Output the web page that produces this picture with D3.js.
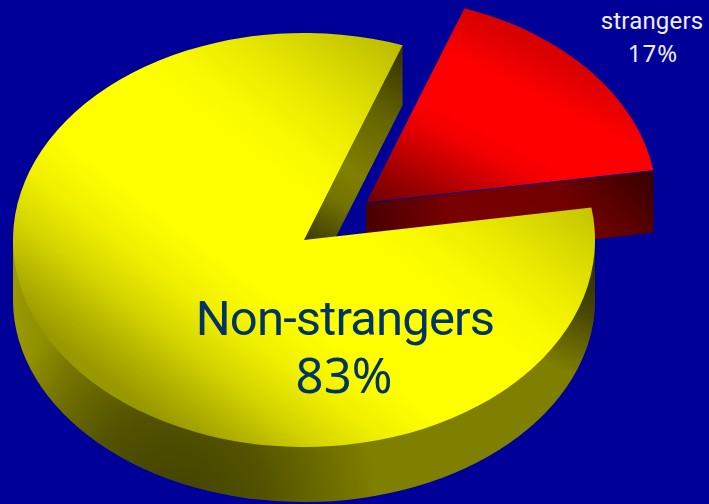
<!DOCTYPE html>
<html>
<head>
<meta charset="utf-8">
<script src="https://cdn.jsdelivr.net/npm/d3@7"></script>
<style>html,body{margin:0;padding:0;background:#000099;overflow:hidden}svg{display:block}</style>
</head>
<body>
<svg id="c" width="709" height="504"></svg>
<script>
const categories = ["Non-strangers", "strangers"];
const values = [83, 17];
const labels = ["83%", "17%"];

const W = 709, H = 504, cx = 304, cy = 240, rx = 291, ry = 207, ryBottom = 202;
const depth = 60, offX = 62, offY = -37;
const k = ry / rx, kB = ryBottom / rx;
const svg = d3.select("#c");
svg.append("rect").attr("width", W).attr("height", H).attr("fill", "#000099");

const defs = svg.append("defs");
function addStops(g, stops) {
  stops.forEach(s => g.append("stop").attr("offset", s[0]).attr("stop-color", s[1]).attr("stop-opacity", s[2] === undefined ? 1 : s[2]));
}
function grad(id, p0, p1, stops, tf) {
  const g = defs.append("linearGradient").attr("id", id).attr("gradientUnits", "userSpaceOnUse")
    .attr("x1", p0[0]).attr("y1", p0[1]).attr("x2", p1[0]).attr("y2", p1[1]);
  if (tf) g.attr("gradientTransform", tf);
  addStops(g, stops);
}
function radial(id, c, r, stops) {
  const g = defs.append("radialGradient").attr("id", id).attr("gradientUnits", "userSpaceOnUse")
    .attr("cx", c[0]).attr("cy", c[1]).attr("r", r);
  addStops(g, stops);
}
const inv = (x, y, kk) => `scale(1,${1 / kk}) translate(${-x},${-y})`;
const tr = (x, y, kk) => `translate(${x},${y}) scale(1,${kk})`;

grad("yTop", [166, 424], [442, 56], [[0, "#989800"], [.08, "#b4b400"], [.16, "#d4d400"], [.26, "#f0f000"], [.36, "#ffff00"], [.58, "#ffff00"], [.66, "#f8f800"], [.74, "#ecec00"], [.83, "#dada00"], [.92, "#c6c600"], [1, "#b4b400"]], inv(cx, cy, k));
grad("yWallBase", [13, 0], [120, 0], [[0, "#9a9a00"], [.5, "#868600"], [1, "#808000"]]);
radial("wallDarkL", [170, 510], 210, [[0, "#000", .5], [.45, "#000", .36], [1, "#000", 0]]);
radial("wallDarkR", [605, 260], 120, [[0, "#000", .65], [.45, "#000", .45], [1, "#000", 0]]);
grad("yInner", [402, 60], [304, 240], [[0, "#3a3a00"], [.3, "#666600"], [.6, "#808000"], [.75, "#747400"], [1, "#3a3a00"]]);
grad("rTop", [410, 230], [510, 30], [[0, "#680000"], [.15, "#900000"], [.3, "#c00000"], [.45, "#f00000"], [.55, "#ff0000"], [.78, "#ff0000"], [.9, "#e80000"], [1, "#d80000"]], inv(cx + offX, cy + offY, k));
grad("rWall", [540, 260], [640, 165], [[0, "#780000"], [.45, "#700000"], [1, "#380000"]]);
grad("rWallL", [366, 0], [450, 0], [[0, "#000", .4], [1, "#000", 0]]);

const pie = d3.pie().sort(null).startAngle(81 * Math.PI / 180).endAngle((81 + 360) * Math.PI / 180);
const arcs = pie(values);
const arc = d3.arc().innerRadius(0).outerRadius(rx);
const pt = (a, x0, y0) => [x0 + rx * Math.sin(a), y0 - ry * Math.cos(a)];
const yellow = arcs[0], red = arcs[1];
const line = d3.line();

// detached red slice: side wall, then top
const rx0 = cx + offX, ry0 = cy + offY;
const rA = [rx0, ry0], rB = pt(red.endAngle, rx0, ry0);
const rQuad = [rA, rB, [rB[0], rB[1] + depth + 2], [rA[0], rA[1] + depth + 2]];
svg.append("path").attr("d", line(rQuad) + "Z").attr("fill", "url(#rWall)");
svg.append("path").attr("d", line(rQuad) + "Z").attr("fill", "url(#rWallL)");
svg.append("path").attr("d", arc(red)).attr("transform", tr(rx0, ry0, k)).attr("fill", "url(#rTop)");
svg.append("path").attr("d", line([rA, rB])).attr("stroke", "#000099").attr("stroke-width", 1).attr("fill", "none");

// large slice: outer wall (lower half of the base ellipse plus the band up to the rim)
const lowerHalf = arc({ startAngle: Math.PI / 2, endAngle: 3 * Math.PI / 2 });
const clip = defs.append("clipPath").attr("id", "wallClip");
clip.append("path").attr("d", lowerHalf).attr("transform", tr(cx, cy + depth, kB));
clip.append("rect").attr("x", cx - rx).attr("y", cy).attr("width", 2 * rx).attr("height", depth + 1);
const wall = svg.append("g").attr("clip-path", "url(#wallClip)");
["url(#yWallBase)", "url(#wallDarkL)", "url(#wallDarkR)"].forEach(f =>
  wall.append("rect").attr("x", 0).attr("y", cy).attr("width", W).attr("height", H - cy).attr("fill", f));

// inner cut wall
const yC = pt(yellow.endAngle - 2 * Math.PI, cx, cy);
svg.append("path").attr("d", line([[cx, cy], yC, [yC[0], yC[1] + depth], [cx, cy + depth]]) + "Z").attr("fill", "url(#yInner)");
// top
svg.append("path").attr("d", arc(yellow)).attr("transform", tr(cx, cy, k)).attr("fill", "url(#yTop)");

const font = "Roboto, 'Noto Sans', sans-serif";
const fontPct = "'Noto Sans', sans-serif";
svg.append("text").attr("x", 345).attr("y", 335).attr("text-anchor", "middle").attr("letter-spacing", -0.85)
  .attr("font-family", font).attr("font-size", 49).attr("fill", "#003366").text(categories[0]);
svg.append("text").attr("x", 344).attr("y", 393).attr("text-anchor", "middle")
  .attr("font-family", fontPct).attr("font-size", 49).attr("fill", "#003366").text(labels[0]);
svg.append("text").attr("x", 652).attr("y", 29).attr("text-anchor", "middle").attr("letter-spacing", 0.2)
  .attr("font-family", font).attr("font-size", 24).attr("fill", "#eeeeff").text(categories[1]);
svg.append("text").attr("x", 653).attr("y", 62).attr("text-anchor", "middle").attr("letter-spacing", 1)
  .attr("font-family", fontPct).attr("font-size", 24).attr("fill", "#eeeeff").text(labels[1]);
</script>
</body>
</html>
